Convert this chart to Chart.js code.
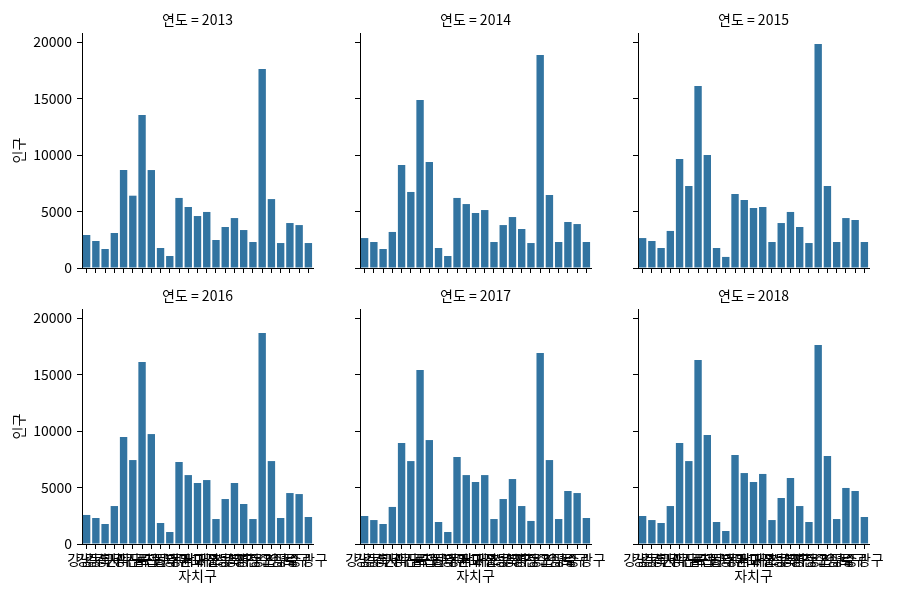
<!DOCTYPE html>
<html>
<head>
<meta charset="utf-8">
<script src="https://cdn.jsdelivr.net/npm/chart.js@4"></script>
<style>
  body { margin: 0; background: #fff; }
  #wrap { position: relative; width: 900px; height: 600px; overflow: hidden; }
  canvas { position: absolute; }
</style>
</head>
<body>
<div id="wrap"></div>
<script>
const districts = ["강남구", "강동구", "강북구", "강서구", "관악구", "광진구", "구로구", "금천구", "노원구", "도봉구",
  "동대문구", "동작구", "마포구", "서대문구", "서초구", "성동구", "성북구", "송파구", "양천구", "영등포구",
  "용산구", "은평구", "종로구", "중구", "중랑구"];
const years = [2013, 2014, 2015, 2016, 2017, 2018];

const pop2013 = [2920, 2390, 1680, 3100, 8670, 6400, 13540, 8670, 1770, 1060, 6200, 5400, 4600, 4960, 2480, 3630, 4420, 3360, 2300, 17610, 6100, 2210, 3980, 3800, 2210];
const pop2014 = [2650, 2300, 1680, 3190, 9120, 6730, 14870, 9380, 1770, 1060, 6200, 5660, 4870, 5130, 2300, 3800, 4510, 3450, 2210, 18850, 6460, 2300, 4070, 3890, 2300];
const pop2015 = [2650, 2390, 1770, 3280, 9650, 7260, 16100, 10000, 1770, 980, 6550, 6020, 5310, 5400, 2300, 3980, 4960, 3630, 2210, 19820, 7260, 2300, 4420, 4250, 2300];
const pop2016 = [2570, 2300, 1770, 3360, 9470, 7430, 16100, 9730, 1860, 1060, 7260, 6100, 5400, 5660, 2210, 3980, 5400, 3540, 2210, 18670, 7340, 2300, 4510, 4420, 2390];
const pop2017 = [2480, 2120, 1770, 3280, 8940, 7340, 15400, 9200, 1950, 1060, 7700, 6100, 5490, 6100, 2210, 3980, 5750, 3360, 2040, 16900, 7430, 2210, 4690, 4510, 2300];
const pop2018 = [2480, 2120, 1860, 3360, 8940, 7340, 16280, 9650, 1950, 1150, 7880, 6280, 5490, 6200, 2120, 4070, 5840, 3360, 1950, 17610, 7790, 2210, 4960, 4690, 2390];
const series = [pop2013, pop2014, pop2015, pop2016, pop2017, pop2018];

const yTicks = [0, 5000, 10000, 15000, 20000];
const yMax = 20800;

const FONT = "'Noto Sans CJK KR', 'Noto Sans', sans-serif";
const BAR = "#3274a1";

const colLeft = [82, 360, 638];
const rowTop = [33, 309];
const plotW = 231, plotH = 235;
const yAxisW = 82, titleH = 33, padRight = 25;

const wrap = document.getElementById("wrap");

// no extra room for labels that hang over the plot edges
function noPad(s) {
  s.paddingLeft = 0; s.paddingRight = 0;
  s.paddingTop = 0; s.paddingBottom = 0;
}

years.forEach((year, i) => {
  const row = Math.floor(i / 3);
  const col = i % 3;
  const bottomRow = row === 1;
  const firstCol = col === 0;
  const xAxisH = bottomRow ? 50 : 10;

  const canvas = document.createElement("canvas");
  canvas.width = yAxisW + plotW + padRight;
  canvas.height = titleH + plotH + xAxisH;
  canvas.style.left = (colLeft[col] - yAxisW) + "px";
  canvas.style.top = (rowTop[row] - titleH) + "px";
  wrap.appendChild(canvas);

  new Chart(canvas.getContext("2d"), {
    type: "bar",
    data: {
      labels: districts,
      datasets: [{
        label: "인구",
        data: series[i],
        backgroundColor: BAR,
        borderWidth: 0,
        barPercentage: 1,
        categoryPercentage: 0.8,
      }],
    },
    options: {
      responsive: false,
      animation: false,
      layout: { padding: { left: 0, right: padRight, top: 0, bottom: 0 } },
      plugins: {
        legend: { display: false },
        tooltip: { enabled: false },
        title: { display: false },
      },
      scales: {
        // facet title, centred over the plot area
        top: {
          type: "category",
          position: "top",
          afterFit: s => { s.height = titleH; noPad(s); },
          grid: { display: false },
          border: { display: false },
          ticks: { display: false },
          title: {
            display: true,
            text: "연도 = " + year,
            color: "#000",
            font: { family: FONT, size: 14 },
            padding: { top: 11.6, bottom: 0 },
          },
        },
        x: {
          offset: true,
          afterFit: s => { s.height = xAxisH; noPad(s); },
          grid: {
            display: true,
            offset: false,
            drawOnChartArea: false,
            drawTicks: true,
            tickLength: 5,
            tickColor: "#000",
            color: "#000",
          },
          border: { display: true, color: "#000", width: 1 },
          ticks: {
            display: bottomRow,
            autoSkip: false,
            maxRotation: 0,
            minRotation: 0,
            padding: 2,
            color: "#000",
            font: { family: FONT, size: 14 },
          },
          title: {
            display: bottomRow,
            text: "자치구",
            color: "#000",
            font: { family: FONT, size: 14 },
            padding: { top: 0, bottom: 10 },
          },
        },
        y: {
          min: 0,
          max: yMax,
          afterFit: s => { s.width = yAxisW; noPad(s); },
          afterBuildTicks: s => { s.ticks = yTicks.map(v => ({ value: v })); },
          grid: {
            display: true,
            drawOnChartArea: false,
            drawTicks: true,
            tickLength: 5,
            tickColor: "#000",
            color: "#000",
          },
          border: { display: true, color: "#000", width: 1 },
          ticks: {
            display: firstCol,
            padding: 5,
            color: "#000",
            font: { family: FONT, size: 14 },
            callback: v => String(v),
          },
          title: {
            display: firstCol,
            text: "인구",
            color: "#000",
            font: { family: FONT, size: 14 },
            padding: { top: 10, bottom: 0 },
          },
        },
      },
    },
  });
});
</script>
</body>
</html>
